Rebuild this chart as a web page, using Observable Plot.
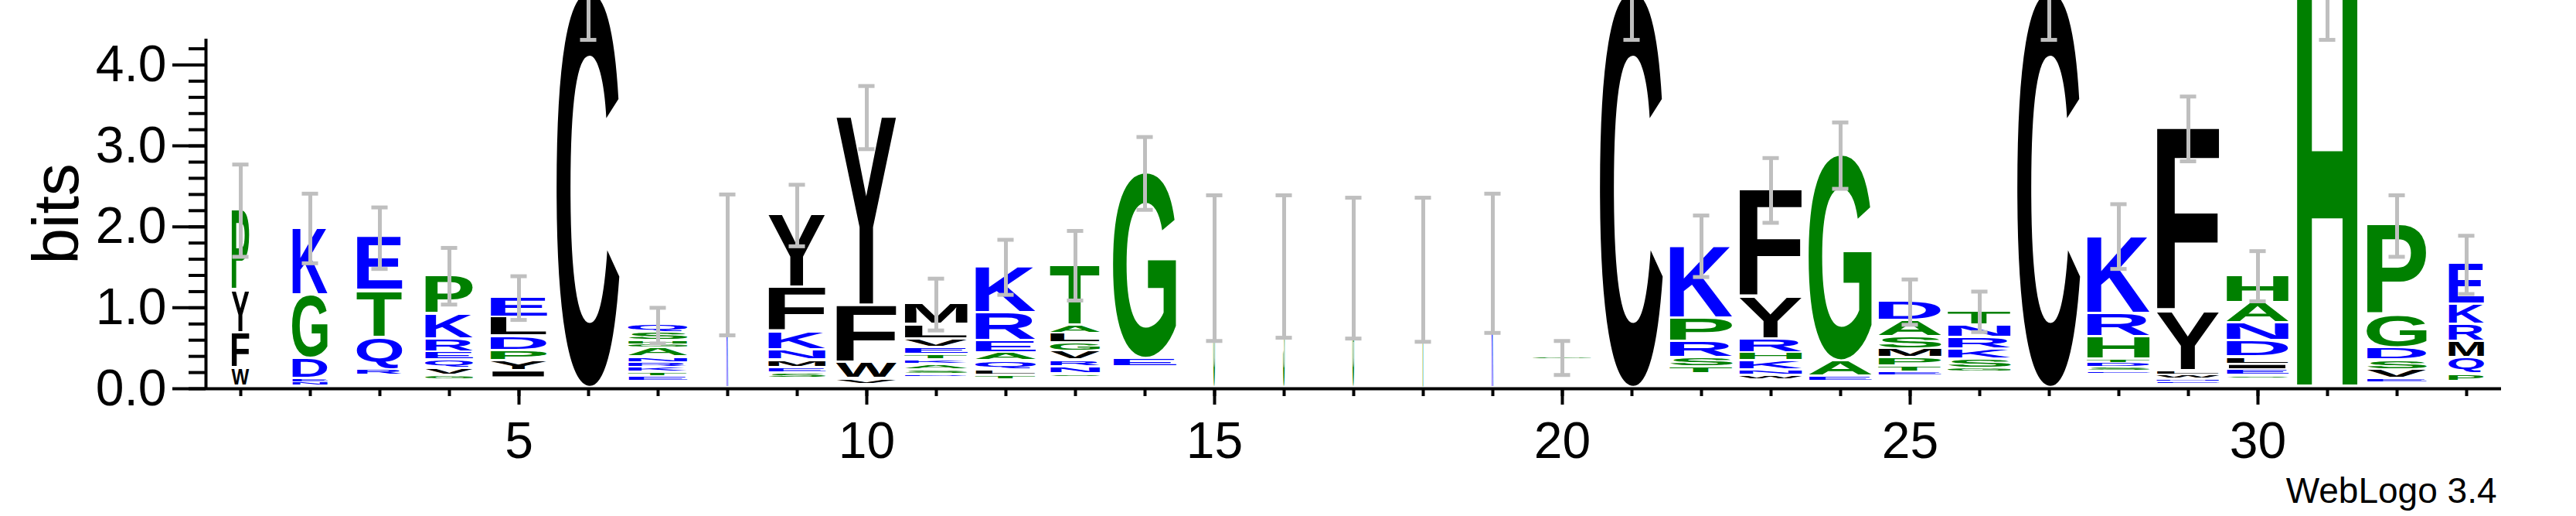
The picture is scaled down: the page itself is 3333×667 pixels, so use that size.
<!DOCTYPE html>
<html>
<head>
<meta charset="utf-8">
<script src="https://cdn.jsdelivr.net/npm/d3@7"></script>
<script src="https://cdn.jsdelivr.net/npm/@observablehq/plot@0.6"></script>
<style>
  html, body { margin: 0; padding: 0; background: #fff; }
</style>
</head>
<body>
<div id="chart"></div>
<script>
const positions = [1,2,3,4,5,6,7,8,9,10,11,12,13,14,15,16,17,18,19,20,21,22,23,24,25,26,27,28,29,30,31,32,33];

// letters of each stack, bottom -> top
const stackLetters = [
  "WFYP", "NEDGK", "RQTE", "GVQERKP", "IYPDLE", "C", "ETKRNAGHSQ", "K",
  "SEMNKFY", "VWFY", "DSAKTEVLM", "TLQAERK", "SNRVGLAT", "EG", "G", "S",
  "G", "T", "K", "G", "C", "TSRPK", "WNKHRYF", "EAG", "ETPMSAD", "GSKRNT",
  "C", "ESDTHRK", "ENWLYF", "SEILDNAH", "H", "EVSDGP", "PQMRKE"
];

// height (bits) of each letter, same order
const stackBits = [
  [0.22,0.44,0.52,1.00],
  [0.04,0.04,0.25,0.79,0.83],
  [0.07,0.40,0.58,0.66],
  [0.05,0.09,0.10,0.10,0.16,0.31,0.48],
  [0.09,0.12,0.13,0.18,0.23,0.25],
  [4.90],
  [0.06,0.05,0.06,0.06,0.07,0.11,0.05,0.04,0.10,0.10],
  [1.53],
  [0.06,0.07,0.09,0.13,0.22,0.55,0.90],
  [0.07,0.20,0.71,2.33],
  [0.03,0.05,0.07,0.05,0.07,0.09,0.10,0.18,0.26],
  [0.04,0.07,0.11,0.10,0.15,0.35,0.57],
  [0.03,0.09,0.08,0.11,0.10,0.12,0.10,0.75],
  [0.10,2.30],
  [1.49],
  [1.51],
  [1.49],
  [1.47],
  [1.55],
  [0.02],
  [4.90],
  [0.09,0.11,0.20,0.29,0.90],
  [0.04,0.07,0.11,0.10,0.17,0.52,1.33],
  [0.06,0.19,2.55],
  [0.04,0.08,0.10,0.11,0.15,0.20,0.24],
  [0.04,0.11,0.13,0.14,0.15,0.18],
  [4.90],
  [0.03,0.04,0.06,0.04,0.28,0.29,0.96],
  [0.03,0.03,0.05,0.05,0.72,2.28],
  [0.03,0.07,0.07,0.09,0.20,0.22,0.25,0.34],
  [4.90],
  [0.04,0.11,0.12,0.15,0.40,1.12],
  [0.09,0.20,0.20,0.21,0.25,0.50]
];

// bits taken by residues too rare to be drawn (bottom of each stack)
const minorBits = [0.02,0.03,0.15,0.10,0.12,0.00,0.08,0.00,0.12,0.04,0.14,0.11,0.14,0.26,0.00,0.00,0.00,0.00,0.00,0.36,0.00,0.17,0.11,0.08,0.15,0.20,0.00,0.18,0.05,0.12,0.02,0.07,0.08];

// stack width (fraction of non-gap sequences)
const stackWidths = [0.28,0.56,0.72,0.76,0.90,1.00,0.94,0.025,0.91,0.96,1.00,0.96,0.79,1.00,0.025,0.025,0.025,0.025,0.025,0.93,1.00,1.00,1.00,1.00,1.00,1.00,1.00,1.00,1.00,0.99,0.97,0.95,0.56];

// error bar half-length (bits)
const errorBits = [0.57,0.43,0.38,0.35,0.27,0.59,0.22,0.87,0.38,0.39,0.32,0.34,0.43,0.45,0.90,0.88,0.87,0.89,0.86,0.21,0.59,0.38,0.40,0.41,0.28,0.25,0.59,0.40,0.40,0.31,0.61,0.38,0.36];

const yTickMajor = [0, 1, 2, 3, 4];
const yTickMinor = [0,0.2,0.4,0.6,0.8,1,1.2,1.4,1.6,1.8,2,2.2,2.4,2.6,2.8,3,3.2,3.4,3.6,3.8,4,4.2];
const xTickMajor = [5, 10, 15, 20, 25, 30];
const maxBits = 4.32;

// hydrophobicity colour scheme
const residueGroups = [
  {residues: "RKDENQ", color: "#0000ff"},
  {residues: "SGHTAP", color: "#008000"},
  {residues: "YVMCLFIW", color: "#000000"}
];
function residueColor(ch) {
  const g = residueGroups.find(g => g.residues.includes(ch));
  return g ? g.color : "#000000";
}

// ---- Build tables ----
const rows = [];
positions.forEach((p, i) => {
  let y = minorBits[i];
  [...stackLetters[i]].forEach((ch, j) => {
    const h = stackBits[i][j];
    rows.push({pos: p, letter: ch, y0: y, y1: y + h, w: stackWidths[i]});
    y += h;
  });
});
const errRows = positions.map((p, i) => {
  const top = minorBits[i] + d3.sum(stackBits[i]);
  return {pos: p, lo: top - errorBits[i], hi: top + errorBits[i]};
});
const capRows = errRows.flatMap(d => [{pos: d.pos, v: d.lo}, {pos: d.pos, v: d.hi}]);

// ---- glyph metrics for stretched letters ----
const GLYPH_FONT = "Liberation Sans";
const ctx = document.createElement("canvas").getContext("2d");
ctx.font = `bold 100px '${GLYPH_FONT}'`;
const metricCache = new Map();
function glyph(ch) {
  if (!metricCache.has(ch)) {
    const m = ctx.measureText(ch);
    metricCache.set(ch, {
      L: m.actualBoundingBoxLeft, R: m.actualBoundingBoxRight,
      A: m.actualBoundingBoxAscent, D: m.actualBoundingBoxDescent
    });
  }
  return metricCache.get(ch);
}

const FULL_WIDTH = 0.91; // in position units
const CAP = 0.117;

function drawLetters(index, scales) {
  const g = d3.create("svg:g").attr("text-anchor", "start");
  const unit = scales.x(2) - scales.x(1);
  for (const i of index) {
    const d = rows[i];
    const m = glyph(d.letter);
    const w = unit * FULL_WIDTH * d.w;
    const yb = scales.y(d.y0), yt = scales.y(d.y1);
    const hpx = yb - yt;
    const gap = Math.min(3, hpx * 0.45);
    const h = hpx - gap;
    const x0 = scales.x(d.pos) - w / 2;
    const sx = w / (m.L + m.R), sy = h / (m.A + m.D);
    g.append("text")
      .attr("font-family", GLYPH_FONT)
      .attr("font-weight", "bold")
      .attr("font-size", 100)
      .attr("fill", residueColor(d.letter))
      .attr("transform", `translate(${x0},${yb - gap}) scale(${sx},${sy}) translate(${m.L},${-m.D})`)
      .text(d.letter);
  }
  return g.node();
}

const chart = Plot.plot({
  width: 3333,
  height: 667,
  marginLeft: 266,
  marginRight: 97,
  marginTop: 50,
  marginBottom: 165,
  style: {fontFamily: "'Liberation Sans', Arial, Helvetica, sans-serif", background: "#fff", color: "#000"},
  x: {domain: [0.5, 33.5], label: null},
  y: {domain: [0, maxBits], label: null},
  marks: [
    Plot.text(rows, {x: "pos", y: "y1", text: "letter", render: drawLetters}),
    Plot.ruleX(errRows, {x: "pos", y1: "lo", y2: "hi", stroke: "#bfbfbf", strokeWidth: 5}),
    Plot.ruleY(capRows, {y: "v", x1: d => d.pos - CAP, x2: d => d.pos + CAP, stroke: "#bfbfbf", strokeWidth: 5}),
    Plot.axisY({ticks: yTickMinor, tickSize: 22, tickFormat: () => "", strokeWidth: 4, label: null}),
    Plot.axisY({ticks: yTickMajor, tickSize: 43, tickPadding: 8, tickFormat: d3.format(".1f"), fontSize: 66, strokeWidth: 4, label: null}),
    Plot.axisX({ticks: positions, tickSize: 10, tickFormat: () => "", strokeWidth: 4, label: null}),
    Plot.axisX({ticks: xTickMajor, tickSize: 21, tickPadding: 22, fontSize: 66, strokeWidth: 4, label: null}),
    Plot.ruleX([0.5], {y1: 0, y2: maxBits, strokeWidth: 4}),
    Plot.ruleY([0], {strokeWidth: 4}),
    Plot.text(["bits"], {text: d => d, frameAnchor: "left", rotate: -90, dx: -166, fontSize: 84, textAnchor: "middle", lineAnchor: "bottom"}),
    Plot.text(["WebLogo 3.4"], {text: d => d, frameAnchor: "bottom-right", dx: -6, dy: 147, fontSize: 46, textAnchor: "end", lineAnchor: "bottom"})
  ]
});
document.getElementById("chart").appendChild(chart);
</script>
</body>
</html>
